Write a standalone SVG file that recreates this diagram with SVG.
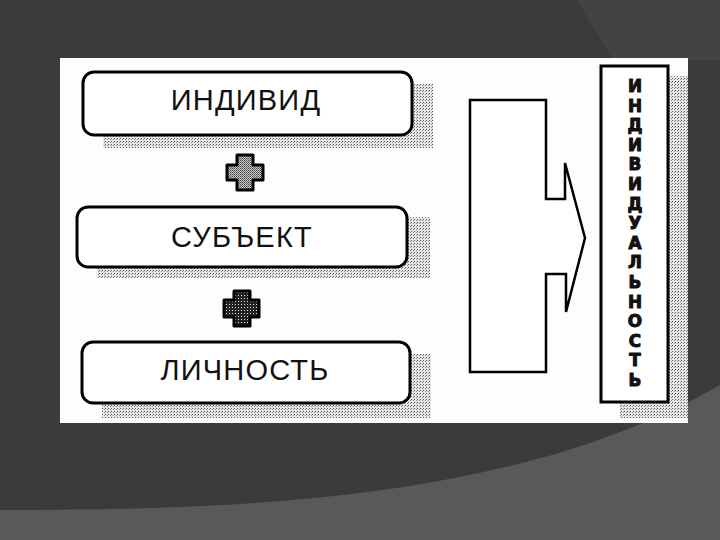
<svg xmlns="http://www.w3.org/2000/svg" width="720" height="540" viewBox="0 0 720 540">
<defs>
<pattern id="dots" width="3" height="3" patternUnits="userSpaceOnUse">
<rect width="3" height="3" fill="#e6e6e6"/>
<rect x="0" y="0" width="1" height="1" fill="#555"/>
<rect x="2" y="1" width="1" height="1" fill="#888"/>
</pattern>
<pattern id="crossLight" width="2" height="2" patternUnits="userSpaceOnUse">
<rect width="2" height="2" fill="#ccc"/>
<rect width="1" height="1" fill="#444"/>
<rect x="1" y="1" width="1" height="1" fill="#666"/>
</pattern>
<pattern id="crossDark" width="3" height="3" patternUnits="userSpaceOnUse">
<rect width="3" height="3" fill="#222"/>
<rect x="1" y="1" width="1" height="1" fill="#ddd"/>
</pattern>
<style>
.box{fill:#fff;stroke:#000;stroke-width:3}
.shadow{fill:url(#dots)}
.lbl{font-family:"Liberation Sans",Arial,sans-serif;font-size:29px;letter-spacing:1.2px;fill:#111;text-anchor:middle}
.vl{font-family:"DejaVu Sans","Liberation Sans",sans-serif;font-size:16.8px;font-weight:bold;fill:#111;stroke:#111;stroke-width:1;stroke-linejoin:round;text-anchor:middle}
.cross{stroke:#000;stroke-width:3;stroke-linejoin:round}
</style>
</defs>
<rect width="720" height="540" fill="#3b3b3b"/>
<polygon points="577,0 720,0 720,60 613,60" fill="#434343"/>
<path d="M0,510 C250,510 520,500 720,385 L720,540 L0,540 Z" fill="#595959"/>
<rect x="60" y="58" width="628" height="365" fill="#fdfdfd"/>

<g id="individ">
<rect class="shadow" x="103" y="84" width="330" height="64"/>
<rect class="box" x="83" y="72" width="329" height="63" rx="11"/>
<text class="lbl" x="246" y="110">ИНДИВИД</text>
</g>
<g id="subject">
<rect class="shadow" x="97" y="217" width="333" height="61"/>
<rect class="box" x="77" y="207" width="330" height="60" rx="11"/>
<text class="lbl" x="242" y="247">СУБЪЕКТ</text>
</g>
<g id="lichnost">
<rect class="shadow" x="102" y="354" width="329" height="64"/>
<rect class="box" x="82" y="342" width="328" height="61" rx="11"/>
<text class="lbl" x="245" y="380">ЛИЧНОСТЬ</text>
</g>

<g id="plus1">
<path class="cross" fill="url(#crossLight)" d="M237,155 H253 V165 H263 V180 H253 V190 H237 V180 H227 V165 H237 Z"/>
</g>
<g id="plus2">
<path class="cross" fill="url(#crossDark)" d="M234,291 H250 V300 H259 V317 H250 V326 H234 V317 H224 V300 H234 Z"/>
</g>

<g id="connectors">
<path d="M470,100 H546 V199 H565 V163 L585,238 L566,312 V274 H546 V372 H470 Z" fill="#fff" stroke="#000" stroke-width="2.5" stroke-linejoin="miter"/>
</g>

<g id="individualnost">
<rect class="shadow" x="620" y="76" width="68" height="342"/>
<rect class="box" x="601" y="66" width="67" height="336"/>
<text class="vl" x="635" y="92">И</text>
<text class="vl" x="635" y="111.6">Н</text>
<text class="vl" x="635" y="131.2">Д</text>
<text class="vl" x="635" y="150.8">И</text>
<text class="vl" x="635" y="170.4">В</text>
<text class="vl" x="635" y="190">И</text>
<text class="vl" x="635" y="209.6">Д</text>
<text class="vl" x="635" y="229.2">У</text>
<text class="vl" x="635" y="248.8">А</text>
<text class="vl" x="635" y="268.4">Л</text>
<text class="vl" x="635" y="288">Ь</text>
<text class="vl" x="635" y="307.6">Н</text>
<text class="vl" x="635" y="327.2">О</text>
<text class="vl" x="635" y="346.8">С</text>
<text class="vl" x="635" y="366.4">Т</text>
<text class="vl" x="635" y="386">Ь</text>
</g>
</svg>
